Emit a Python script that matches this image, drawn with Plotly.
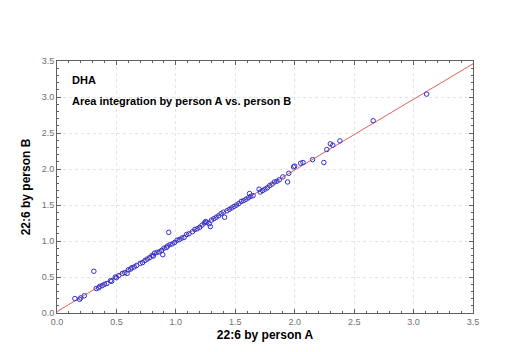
import plotly.graph_objects as go

# 22:6 area by person A (x) and by person B (y)
person_a = [0.15, 0.19, 0.20, 0.23, 0.31, 0.33, 0.35, 0.36, 0.38, 0.40, 0.42, 0.45, 0.46, 0.49, 0.50,
            0.52, 0.55, 0.57, 0.59, 0.60, 0.62, 0.63, 0.65, 0.67, 0.70, 0.72, 0.74, 0.76, 0.78, 0.80,
            0.81, 0.82, 0.84, 0.86, 0.88, 0.89, 0.90, 0.92, 0.93, 0.94, 0.95, 0.97, 0.99, 1.01, 1.03,
            1.05, 1.07, 1.09, 1.11, 1.14, 1.16, 1.18, 1.20, 1.22, 1.24, 1.25, 1.26, 1.28, 1.29, 1.30,
            1.32, 1.34, 1.36, 1.38, 1.40, 1.41, 1.43, 1.45, 1.47, 1.49, 1.51, 1.53, 1.55, 1.57, 1.59,
            1.61, 1.62, 1.63, 1.65, 1.70, 1.71, 1.73, 1.75, 1.77, 1.79, 1.81, 1.83, 1.85, 1.87, 1.90,
            1.95, 1.94, 1.99, 2.00, 2.05, 2.07, 2.15, 2.245, 2.27, 2.30, 2.32, 2.38, 2.66, 3.11]
person_b = [0.20, 0.19, 0.21, 0.24, 0.58, 0.34, 0.35, 0.37, 0.38, 0.40, 0.41, 0.45, 0.44, 0.50, 0.49,
            0.52, 0.55, 0.56, 0.55, 0.60, 0.61, 0.63, 0.64, 0.66, 0.69, 0.70, 0.73, 0.75, 0.77, 0.80,
            0.79, 0.83, 0.84, 0.85, 0.87, 0.81, 0.90, 0.91, 0.93, 1.12, 0.95, 0.96, 0.98, 1.01, 1.02,
            1.04, 1.05, 1.09, 1.10, 1.13, 1.16, 1.17, 1.19, 1.22, 1.25, 1.27, 1.26, 1.24, 1.20, 1.29,
            1.31, 1.33, 1.35, 1.38, 1.40, 1.33, 1.42, 1.44, 1.46, 1.48, 1.50, 1.52, 1.55, 1.56, 1.58,
            1.60, 1.66, 1.62, 1.63, 1.72, 1.68, 1.70, 1.72, 1.74, 1.77, 1.79, 1.82, 1.83, 1.85, 1.89,
            1.94, 1.82, 2.03, 2.04, 2.08, 2.09, 2.13, 2.09, 2.27, 2.35, 2.33, 2.39, 2.67, 3.04]

# fitted line parameters (B = intercept + slope * A)
fit_intercept = 0.02
fit_slope = 0.983
axis_range = [0.0, 3.5]
tick_values = [0.0, 0.5, 1.0, 1.5, 2.0, 2.5, 3.0, 3.5]
tick_labels = ["0.0", "0.5", "1.0", "1.5", "2.0", "2.5", "3.0", "3.5"]

fit_x = axis_range
fit_y = [fit_intercept + fit_slope * v for v in fit_x]

fig = go.Figure()
fig.add_trace(go.Scatter(x=fit_x, y=fit_y, mode="lines",
                         line=dict(color="#e06060", width=1), hoverinfo="skip"))
fig.add_trace(go.Scatter(x=person_a, y=person_b, mode="markers",
                         marker=dict(symbol="circle-open", size=4.5, color="#3030d0",
                                     line=dict(width=1, color="#3030d0"))))

axis_common = dict(
    range=axis_range, tickvals=tick_values, ticktext=tick_labels,
    showgrid=True, gridcolor="#e4e4e4", griddash="dot", gridwidth=1,
    zeroline=False, showline=True, linecolor="#606060", linewidth=1, mirror="allticks",
    ticks="inside", ticklen=4, tickcolor="#606060",
    minor=dict(dtick=0.1, ticks="inside", ticklen=2, tickcolor="#606060", showgrid=False),
    tickfont=dict(family="Liberation Sans, Arial", size=9, color="#707070"),
)

fig.update_layout(
    width=528, height=352,
    margin=dict(l=57, r=55, t=61, b=39),
    paper_bgcolor="white", plot_bgcolor="white",
    showlegend=False,
    font=dict(family="Liberation Sans, Arial", color="black"),
    xaxis=dict(**axis_common,
               title=dict(text="<b>22:6 by person A</b>", standoff=4,
                          font=dict(family="Liberation Sans, Arial", size=12, color="black"))),
    yaxis=dict(**axis_common,
               title=dict(text="<b>22:6 by person B</b>", standoff=8,
                          font=dict(family="Liberation Sans, Arial", size=12, color="black"))),
    annotations=[
        dict(text="<b>DHA</b>", xref="paper", yref="paper", x=0.031, y=0.925,
             xanchor="left", yanchor="middle", showarrow=False,
             font=dict(family="Liberation Sans, Arial", size=11, color="black")),
        dict(text="<b>Area integration by person A vs. person B</b>", xref="paper", yref="paper",
             x=0.031, y=0.841, xanchor="left", yanchor="middle", showarrow=False,
             font=dict(family="Liberation Sans, Arial", size=11, color="black")),
    ],
)

fig.write_html("out.html")
